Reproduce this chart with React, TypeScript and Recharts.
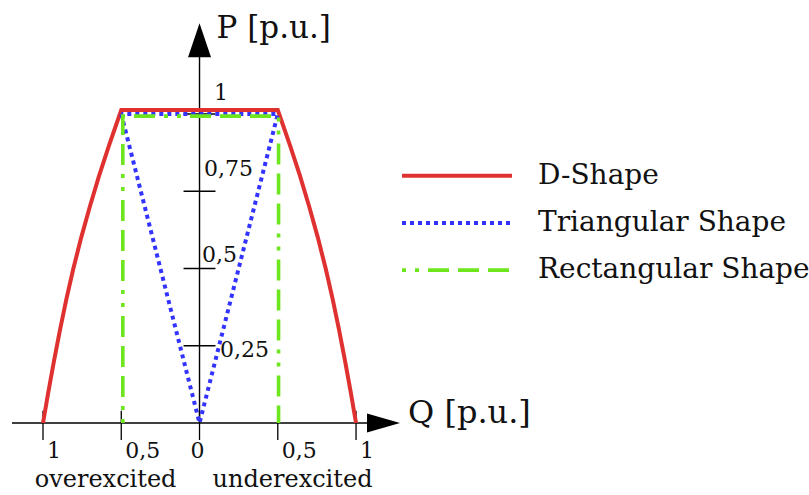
import { LineChart, Line, XAxis, YAxis, ReferenceLine, ReferenceDot, Legend } from 'recharts';

const FONT = '"DejaVu Serif", serif';

// D-shape capability curve (Q < 0 overexcited, Q > 0 underexcited)
const dShapeQ = [
  -1, -0.966, -0.93, -0.892, -0.851, -0.806, -0.756, -0.701, -0.642, -0.577, -0.5,
  0.5, 0.577, 0.642, 0.701, 0.756, 0.806, 0.851, 0.892, 0.93, 0.966, 1,
];
const dShapeP = [
  0, 0.1, 0.2, 0.3, 0.4, 0.5, 0.6, 0.7, 0.8, 0.9, 1.013,
  1.013, 0.9, 0.8, 0.7, 0.6, 0.5, 0.4, 0.3, 0.2, 0.1, 0,
];

// triangular shape, closed back to the first corner
const triangleQ = [-0.5, 0, 0.5, -0.5];
const triangleP = [1, 0, 1, 1];

// rectangular shape
const rectQ = [-0.49, -0.49, 0.505, 0.505];
const rectP = [0, 0.993, 0.993, 0];

const pTicks = [0.25, 0.5, 0.75, 1];
const qTicks = [-1, -0.5, 0, 0.5, 1];

const seriesNames = ['D-Shape', 'Triangular Shape', 'Rectangular Shape'];

const SERIES_STYLE: Record<string, { color: string; width: number; dash?: string }> = {
  'D-Shape': { color: '#e03131', width: 4 },
  'Triangular Shape': { color: '#3333ff', width: 4, dash: '4 4' },
  'Rectangular Shape': { color: '#6ee61e', width: 3.6, dash: '4 9 4 9 21 9 21 9 21 9' },
};

// label offsets (px) next to the tick marks
const pLabelOffset: Record<number, { dx: number; dy: number }> = {
  1: { dx: 14.5, dy: -14 },
  0.75: { dx: 4.5, dy: -15 },
  0.5: { dx: 2.5, dy: -7 },
  0.25: { dx: 20.5, dy: 11 },
};

const toPoints = (qs: number[], ps: number[]) => qs.map((q, i) => ({ q, p: ps[i] }));
const fmt = (v: number) => String(Math.abs(v)).replace('.', ',');

const textShape = (text: string, dx: number, dy: number, size: number, anchor = 'start') =>
  (props: any) => (
    <text
      x={props.cx + dx}
      y={props.cy + dy}
      textAnchor={anchor}
      fontSize={size}
      fontFamily={FONT}
      fill="#111"
    >
      {text}
    </text>
  );

const arrowUp = (props: any) => {
  const { cx, cy } = props;
  return (
    <g>
      <polygon points={`${cx},${cy} ${cx - 11.5},${cy + 34} ${cx + 11.5},${cy + 34}`} fill="#000" />
      <text x={cx + 17} y={cy + 15} fontSize={31} fontFamily={FONT} fill="#111">P [p.u.]</text>
    </g>
  );
};

const arrowRight = (props: any) => {
  const { cx, cy } = props;
  return (
    <g>
      <polygon points={`${cx},${cy} ${cx - 33},${cy - 9.5} ${cx - 33},${cy + 9.5}`} fill="#000" />
      <text x={cx + 8} y={cy - 0.5} fontSize={32} fontFamily={FONT} fill="#111">Q [p.u.]</text>
    </g>
  );
};

// legend keeps the series order, not alphabetical
const renderLegend = (props: any) => {
  const items = [...(props.payload ?? [])].sort(
    (a: any, b: any) => seriesNames.indexOf(a.value) - seriesNames.indexOf(b.value),
  );
  return (
    <svg width={409} height={150}>
      {items.map((item: any, i: number) => {
        const s = SERIES_STYLE[item.value];
        const y = 25.7 + i * 47.2;
        return (
          <g key={item.value}>
            <line x1={2} x2={112} y1={y} y2={y} stroke={s.color} strokeWidth={s.width} strokeDasharray={s.dash} />
            <text x={138} y={y + 8} fontSize={28} fontFamily={FONT} fill="#111">
              {item.value}
            </text>
          </g>
        );
      })}
    </svg>
  );
};

export default function App() {
  const shapes = [
    toPoints(dShapeQ, dShapeP),
    toPoints(triangleQ, triangleP),
    toPoints(rectQ, rectP),
  ];

  return (
    <div style={{ position: 'absolute', left: 0, top: 0, width: 809, height: 495, background: '#fff' }}>
      <LineChart width={809} height={495} margin={{ top: 21.3, right: 406, bottom: 4, left: 11.7 }}>
        <XAxis type="number" dataKey="q" domain={[-1.2, 1.3]} allowDataOverflow hide />
        <YAxis type="number" dataKey="p" domain={[-0.22, 1.3]} allowDataOverflow hide />

        {/* axes through the origin */}
        <ReferenceLine segment={[{ x: -1.198, y: 0 }, { x: 1.25, y: 0 }]} stroke="#000" strokeWidth={1.4} />
        <ReferenceLine segment={[{ x: 0, y: 0 }, { x: 0, y: 1.2 }]} stroke="#000" strokeWidth={1.4} />

        {pTicks.map((p) => (
          <ReferenceLine
            key={`pt${p}`}
            segment={[{ x: -0.102, y: p }, { x: 0.102, y: p }]}
            stroke="#000"
            strokeWidth={1.3}
          />
        ))}
        {qTicks.map((q) => (
          <ReferenceLine
            key={`qt${q}`}
            segment={[{ x: q, y: -0.055 }, { x: q, y: 0.04 }]}
            stroke="#000"
            strokeWidth={1.3}
          />
        ))}

        {seriesNames.map((name, i) => {
          const s = SERIES_STYLE[name];
          return (
            <Line
              key={name}
              name={name}
              data={shapes[i]}
              dataKey="p"
              type="linear"
              stroke={s.color}
              strokeWidth={s.width}
              strokeDasharray={s.dash}
              dot={false}
              activeDot={false}
              isAnimationActive={false}
            />
          );
        })}

        {pTicks.map((p) => (
          <ReferenceDot
            key={`pl${p}`}
            x={0}
            y={p}
            ifOverflow="visible"
            shape={textShape(fmt(p), pLabelOffset[p].dx, pLabelOffset[p].dy, 22)}
          />
        ))}
        {qTicks.map((q) => (
          <ReferenceDot
            key={`ql${q}`}
            x={q}
            y={0}
            ifOverflow="visible"
            shape={q === 0 ? textShape(fmt(q), -2, 35, 22, 'middle') : textShape(fmt(q), 4, 35, 22)}
          />
        ))}

        <ReferenceDot x={-0.6} y={0} ifOverflow="visible" shape={textShape('overexcited', 0, 64, 24, 'middle')} />
        <ReferenceDot x={0.594} y={0} ifOverflow="visible" shape={textShape('underexcited', 0, 64, 24, 'middle')} />

        <ReferenceDot x={0} y={1.294} ifOverflow="visible" shape={arrowUp} />
        <ReferenceDot x={1.281} y={0} ifOverflow="visible" shape={arrowRight} />

        <Legend
          layout="vertical"
          align="center"
          verticalAlign="middle"
          content={renderLegend}
          wrapperStyle={{ left: 400, top: 150, width: 409, height: 150 }}
        />
      </LineChart>
    </div>
  );
}
